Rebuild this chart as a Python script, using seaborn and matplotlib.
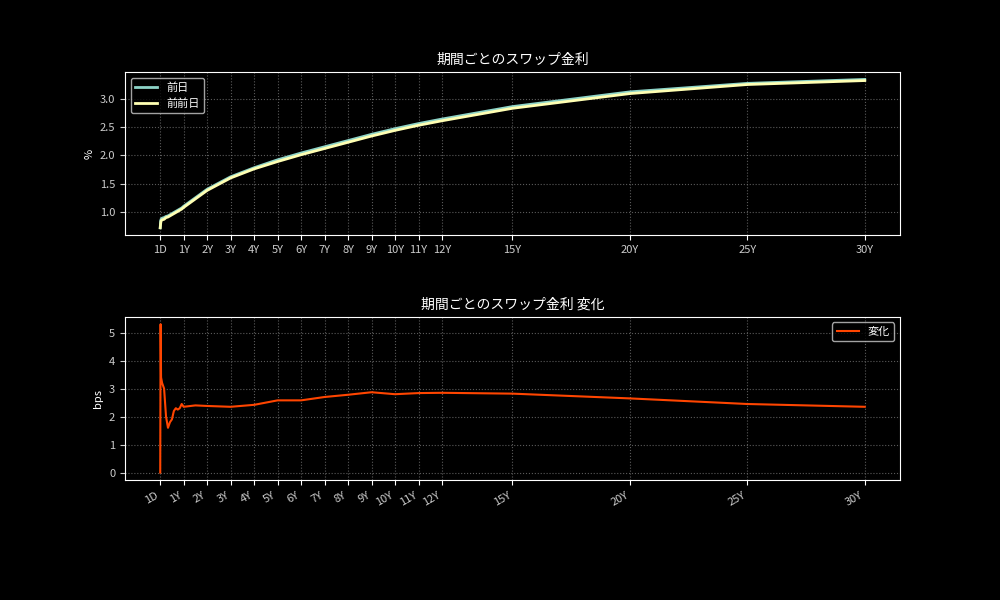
import numpy as np
import pandas as pd
import seaborn as sns
import matplotlib
matplotlib.use("Agg")
import matplotlib.pyplot as plt

# tenors (in years) of the curve points
years = [0.0027, 0.019, 0.038, 0.083, 0.167, 0.25, 0.333, 0.417, 0.5, 0.583, 0.667,
         0.75, 0.833, 0.917, 1.0, 1.5, 2, 3, 4, 5, 6, 7, 8, 9, 10, 11, 12, 15, 20, 25, 30]
rate_prev1 = [0.72, 0.84, 0.87, 0.89, 0.90, 0.92, 0.93, 0.95, 0.97, 0.99, 1.01,
              1.03, 1.05, 1.07, 1.10, 1.25, 1.40, 1.62, 1.78, 1.92, 2.04, 2.15, 2.26, 2.37,
              2.47, 2.56, 2.64, 2.86, 3.12, 3.27, 3.34]
chg_bps = [0.0, 5.3, 3.4, 3.2, 3.0, 2.0, 1.6, 1.8, 1.9, 2.2, 2.3,
           2.25, 2.3, 2.45, 2.35, 2.4, 2.38, 2.35, 2.42, 2.58, 2.58, 2.7, 2.78, 2.87,
           2.8, 2.84, 2.85, 2.82, 2.65, 2.45, 2.35]
rate_prev2 = [0.72, 0.79, 0.84, 0.86, 0.87, 0.90, 0.91, 0.93, 0.95, 0.97, 0.99,
              1.01, 1.03, 1.05, 1.08, 1.23, 1.38, 1.60, 1.76, 1.89, 2.01, 2.12, 2.23, 2.34,
              2.44, 2.53, 2.61, 2.83, 3.09, 3.25, 3.32]
tick_years = [0.0027, 1, 2, 3, 4, 5, 6, 7, 8, 9, 10, 11, 12, 15, 20, 25, 30]
tick_labels = ["1D", "1Y", "2Y", "3Y", "4Y", "5Y", "6Y", "7Y", "8Y", "9Y", "10Y",
               "11Y", "12Y", "15Y", "20Y", "25Y", "30Y"]

df = pd.DataFrame({"years": years, "前日": rate_prev1, "前前日": rate_prev2, "変化": chg_bps})

plt.style.use("dark_background")
plt.rcParams['font.family'] = ['Noto Sans CJK JP', 'DejaVu Sans']

fig, (ax1, ax2) = plt.subplots(2, 1, figsize=(10, 6), dpi=100)
fig.subplots_adjust(left=0.125, right=0.9, top=0.88, bottom=0.2, hspace=0.5)

sns.lineplot(data=df, x="years", y="前日", ax=ax1, color="#8dd3c7", lw=2, label="前日")
sns.lineplot(data=df, x="years", y="前前日", ax=ax1, color="#ffffb3", lw=2, label="前前日")
ax1.set_title("期間ごとのスワップ金利", fontsize=10)
ax1.set_ylabel("%", fontsize=8)
ax1.set_xlabel("")
ax1.legend(loc="upper left", fontsize=8)
ax1.set_xticks(tick_years)
ax1.set_xticklabels(tick_labels, fontsize=8, color="#cccccc")

sns.lineplot(data=df, x="years", y="変化", ax=ax2, color="#ff4500", lw=1.5, label="変化")
ax2.set_title("期間ごとのスワップ金利 変化", fontsize=10)
ax2.set_ylabel("bps", fontsize=8)
ax2.set_xlabel("")
ax2.legend(loc="upper right", fontsize=8)
ax2.set_xticks(tick_years)
ax2.set_xticklabels(tick_labels, fontsize=8, rotation=30, ha="right", color="#cccccc")

for ax in (ax1, ax2):
    ax.grid(True, linestyle=":", color="gray", alpha=0.7)
    ax.tick_params(axis="y", labelsize=8, colors="#cccccc")

fig.savefig("out.png")
